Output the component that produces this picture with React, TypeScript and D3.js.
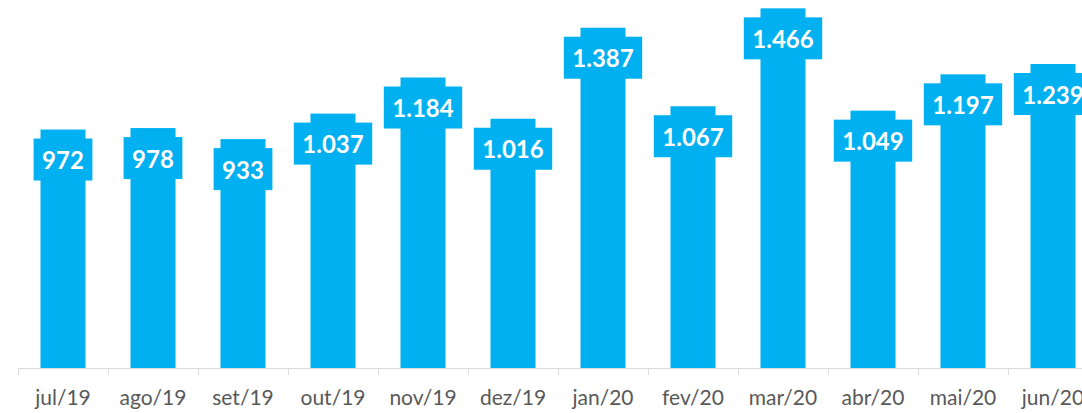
import React, { useEffect, useRef } from "react";
import * as d3 from "d3";

const categories = ["jul/19", "ago/19", "set/19", "out/19", "nov/19", "dez/19", "jan/20", "fev/20", "mar/20", "abr/20", "mai/20", "jun/20"];
const values = [972, 978, 933, 1037, 1184, 1016, 1387, 1067, 1466, 1049, 1197, 1239];

const W = 1082;
const H = 413;
const COLOR = "#00B0F0";

export default function App() {
  const ref = useRef<SVGSVGElement>(null);
  useEffect(() => {
    document.body.style.margin = "0";
    const svg = d3.select(ref.current);
    svg.selectAll("*").remove();
    const baseY = 368;
    const x = d3.scaleBand<string>().domain(categories).range([18, 18 + 90 * categories.length]).paddingInner(0.5).paddingOuter(0.25);
    const y = d3.scaleLinear().domain([0, 1500]).range([baseY, 0]);
    const fmt = (v: number) => d3.format(",")(v).replace(/,/g, ".");

    // axis line and ticks
    svg.append("line").attr("x1", 18).attr("x2", W).attr("y1", baseY + 0.5).attr("y2", baseY + 0.5).attr("stroke", "#d9d9d9").attr("stroke-width", 1);
    const step = x.step();
    d3.range(categories.length + 1).forEach((i) => {
      const tx = Math.round(18 + i * step) + 0.5;
      svg.append("line").attr("x1", tx).attr("x2", tx).attr("y1", baseY).attr("y2", baseY + 7).attr("stroke", "#d9d9d9");
    });

    svg.append("g").selectAll("rect").data(values).join("rect")
      .attr("x", (_, i) => x(categories[i])!)
      .attr("width", x.bandwidth())
      .attr("y", (d) => y(d))
      .attr("height", (d) => baseY - y(d))
      .attr("fill", COLOR);

    const lg = svg.append("g");
    values.forEach((v, i) => {
      const cx = x(categories[i])! + x.bandwidth() / 2;
      const cy = y(v) + 30;
      const g = lg.append("g");
      const rect = g.append("rect").attr("fill", COLOR);
      const t = g.append("text").attr("x", cx).attr("y", cy).attr("text-anchor", "middle").attr("dominant-baseline", "central")
        .attr("font-family", "Lato, sans-serif").attr("font-weight", "bold").attr("font-size", 24).attr("fill", "#ffffff").text(fmt(v));
      const tw = (t.node() as SVGTextElement).getComputedTextLength();
      const bw = tw + 17;
      rect.attr("x", cx - bw / 2).attr("width", bw).attr("y", cy - 21).attr("height", 42);
    });

    svg.append("g").selectAll("text").data(categories).join("text")
      .attr("x", (d) => x(d)! + x.bandwidth() / 2)
      .attr("y", 405)
      .attr("text-anchor", "middle")
      .attr("font-family", "Lato, sans-serif")
      .attr("font-size", 21)
      .attr("fill", "#595959")
      .text((d) => d);
  }, []);
  return <svg ref={ref} width={W} height={H} style={{ display: "block" }} />;
}
